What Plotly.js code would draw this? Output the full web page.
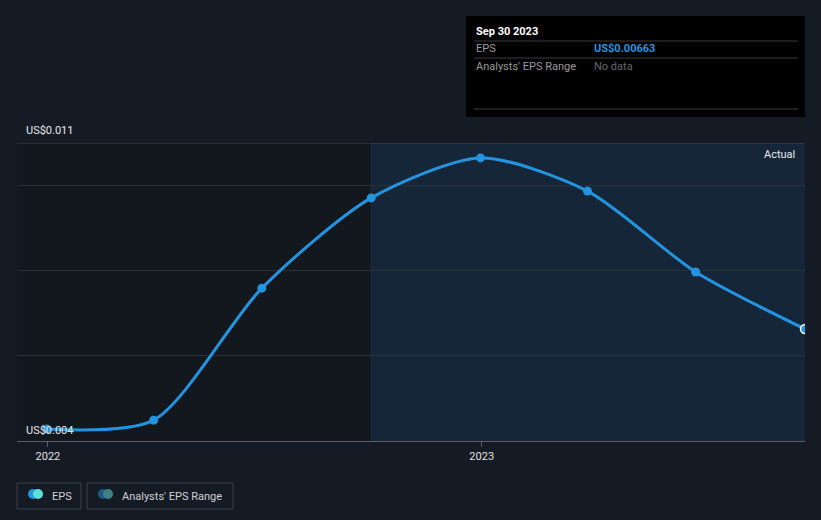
<!DOCTYPE html>
<html><head><meta charset="utf-8">
<script src="https://cdn.plot.ly/plotly-3.0.1.min.js"></script>
<style>html,body{margin:0;padding:0;background:#151b25;}#c{width:821px;height:520px;}</style>
</head><body><div id="c"></div>
<script>
const dates = ["2021-12-31","2022-03-31","2022-06-30","2022-09-30","2022-12-31","2023-03-31","2023-06-30","2023-09-30"];
const eps = [0.00428,0.00449,0.00759,0.00971,0.01065,0.00987,0.00797,0.00663];
const yTickLabels = ["US$0.011","US$0.004"];
const xTickVals = ["2022-01-01","2023-01-01"];
const xTickText = ["2022","2023"];

const W=821,H=520,L=17,R=805,T=143,B=441;
const px = x => (x-L)/(R-L);
const py = y => (B-y)/(B-T);
const font = "Roboto, 'Noto Sans', sans-serif";

const shapes = [
  {type:'rect',xref:'x',yref:'paper',x0:'2021-12-06',x1:dates[3],y0:0,y1:1,fillcolor:'#13171e',line:{width:0},layer:'below'},
  {type:'rect',xref:'x',yref:'paper',x0:dates[3],x1:'2023-09-30',y0:0,y1:1,fillcolor:'#142638',line:{width:0},layer:'below'},
  {type:'line',xref:'x',yref:'paper',x0:dates[3],x1:dates[3],y0:0,y1:1,line:{color:'#1d2e42',width:1},layer:'below'},
  {type:'line',xref:'paper',yref:'y',x0:0,x1:1,y0:0.011,y1:0.011,line:{color:'#40464f',width:1}},
  // tooltip box
  {type:'rect',xref:'paper',yref:'paper',x0:px(466),x1:px(805),y0:py(117),y1:py(16),fillcolor:'#000000',line:{width:0}},
  {type:'line',xref:'paper',yref:'paper',x0:px(474),x1:px(798),y0:py(41),y1:py(41),line:{color:'#3a3a3a',width:1}},
  {type:'line',xref:'paper',yref:'paper',x0:px(474),x1:px(798),y0:py(58),y1:py(58),line:{color:'#3a3a3a',width:1}},
  {type:'line',xref:'paper',yref:'paper',x0:px(474),x1:px(798),y0:py(109),y1:py(109),line:{color:'#3a3a3a',width:1}},
  // legend boxes
  {type:'rect',xref:'paper',yref:'paper',x0:px(17),x1:px(81),y0:py(509),y1:py(483),fillcolor:'rgba(0,0,0,0)',line:{color:'#3a404a',width:1}},
  {type:'rect',xref:'paper',yref:'paper',x0:px(87),x1:px(233),y0:py(509),y1:py(483),fillcolor:'rgba(0,0,0,0)',line:{color:'#3a404a',width:1}},
  {type:'circle',xref:'paper',yref:'paper',x0:px(28),x1:px(38),y0:py(499),y1:py(489),fillcolor:'#2394df',line:{width:0}},
  {type:'circle',xref:'paper',yref:'paper',x0:px(33),x1:px(43),y0:py(499),y1:py(489),fillcolor:'#5ee0d8',line:{width:0}},
  {type:'circle',xref:'paper',yref:'paper',x0:px(98),x1:px(108),y0:py(499),y1:py(489),fillcolor:'#1f5a85',line:{width:0}},
  {type:'circle',xref:'paper',yref:'paper',x0:px(103),x1:px(113),y0:py(499),y1:py(489),fillcolor:'#3f8283',line:{width:0}}
];

const ann = (x,y,text,opts={}) => Object.assign({xref:'paper',yref:'paper',x:px(x),y:py(y),text:text,showarrow:false,xanchor:'left',yanchor:'middle',font:{family:font,size:11,color:'#e8e8e8'}},opts);

const annotations = [
  ann(24,130,yTickLabels[0]),
  ann(24,430,yTickLabels[1]),
  ann(797,154,'Actual',{xanchor:'right'}),
  ann(474,31,'<b>Sep 30 2023</b>',{font:{family:font,size:11,color:'#ffffff'}}),
  ann(474,49,'EPS',{font:{family:font,size:11,color:'#9a9a9a'}}),
  ann(592,49,'<b>US$0.00663</b>',{font:{family:font,size:11,color:'#2394df'}}),
  ann(474,66,"Analysts' EPS Range",{font:{family:font,size:11,color:'#9a9a9a'}}),
  ann(592,66,'No data',{font:{family:font,size:11,color:'#666666'}}),
  ann(50,496,'EPS',{font:{family:font,size:11,color:'#d0d0d0'}}),
  ann(120,496,"Analysts' EPS Range",{font:{family:font,size:11,color:'#d0d0d0'}})
];

const trace = {
  x: dates, y: eps, type:'scatter', mode:'lines+markers',
  line:{color:'#2394df',width:3,shape:'spline',smoothing:0.75},
  marker:{color:'#2394df',size:9,line:{color:['#2394df','#2394df','#2394df','#2394df','#2394df','#2394df','#2394df','#ffffff'],width:[0,0,0,0,0,0,0,1.5]}},
  hoverinfo:'skip', cliponaxis:true
};

const layout = {
  width:W,height:H,
  paper_bgcolor:'#151b25', plot_bgcolor:'#151b25',
  margin:{l:L,r:W-R,t:T,b:H-B},
  showlegend:false,
  xaxis:{type:'date',range:['2021-12-06','2023-09-30'],tickvals:xTickVals,ticktext:xTickText,showgrid:false,zeroline:false,
    showline:true,linecolor:'#5a5f66',linewidth:1,ticks:'outside',ticklen:5,tickcolor:'#5a5f66',
    tickfont:{family:font,size:11,color:'#e0e0e0'},fixedrange:true},
  yaxis:{range:[0.004,0.011],tickvals:[0.004,0.006,0.008,0.010],showticklabels:false,showgrid:true,gridcolor:'#2a313b',gridwidth:1,zeroline:false,fixedrange:true},
  shapes:shapes, annotations:annotations
};
Plotly.newPlot('c',[trace],layout,{displayModeBar:false,staticPlot:true});
</script></body></html>
